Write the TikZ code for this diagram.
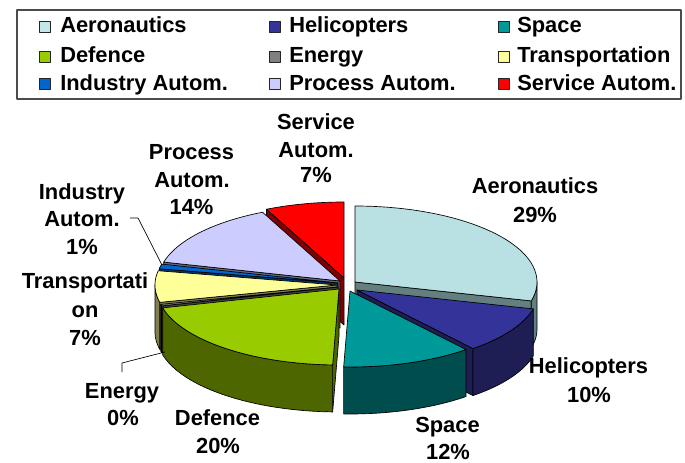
\documentclass[tikz,border=0pt]{standalone}
\usepackage{fontspec}
\setmainfont{Liberation Sans}
\definecolor{aeroT}{HTML}{B9E0E3}\definecolor{aeroS}{HTML}{637F80}\definecolor{aeroL}{HTML}{C4E8EA}
\definecolor{heliT}{HTML}{333399}\definecolor{heliS}{HTML}{1E1E55}
\definecolor{spaceT}{HTML}{009999}\definecolor{spaceS}{HTML}{004D4D}
\definecolor{defT}{HTML}{99CC00}\definecolor{defS}{HTML}{4D6600}
\definecolor{enT}{HTML}{808080}\definecolor{enS}{HTML}{404040}
\definecolor{trT}{HTML}{FFFF99}\definecolor{trS}{HTML}{80804D}
\definecolor{indT}{HTML}{0066CC}\definecolor{indS}{HTML}{003366}
\definecolor{procT}{HTML}{CCCCFF}\definecolor{procS}{HTML}{666680}
\definecolor{servT}{HTML}{FF0000}\definecolor{servS}{HTML}{800000}
\def\RX{182}\def\RY{76}\def\DP{47}
\newcommand\pieRad[4]{\filldraw[edge, fill=#4] (#1,#2) -- ({#1+\RX*sin(#3)},{#2-\RY*cos(#3)}) -- ({#1+\RX*sin(#3)},{#2+\DP-\RY*cos(#3)}) -- (#1,{#2+\DP}) -- cycle;}
\newcommand\pieWall[5]{\filldraw[edge, fill=#5] plot[domain=#3:#4, samples=25] ({#1+\RX*sin(\x)},{#2-\RY*cos(\x)}) -- plot[domain=#4:#3, samples=25] ({#1+\RX*sin(\x)},{#2+\DP-\RY*cos(\x)}) -- cycle;}
\newcommand\pieTop[5]{\filldraw[edge, fill=#5] (#1,#2) -- plot[domain=#3:#4, samples=40] ({#1+\RX*sin(\x)},{#2-\RY*cos(\x)}) -- cycle;}
\begin{document}
\begin{tikzpicture}[x=0.75pt,y=-0.75pt,line join=round,
  edge/.style={draw=black,line width=0.5pt},
  lbl/.style={font=\fontsize{16.4}{20}\selectfont\bfseries,inner sep=0pt,anchor=base},
  legtxt/.style={font=\fontsize{16.4}{20}\selectfont\bfseries,inner sep=0pt,anchor=base west},
  legsq/.style={draw=black!85,line width=0.6pt},
  leader/.style={draw=black,line width=0.5pt}]
\useasboundingbox (0,0) rectangle (685,463);
% legend
\draw[draw=black!70,line width=1pt] (17,10) rectangle (681,99);
\filldraw[legsq,fill=aeroL] (39,21) rectangle (50,32);
\filldraw[legsq,fill=heliT] (269,21) rectangle (280,32);
\filldraw[legsq,fill=spaceT] (498,21) rectangle (509,32);
\filldraw[legsq,fill=defT] (39,51) rectangle (50,62);
\filldraw[legsq,fill=enT] (269,51) rectangle (280,62);
\filldraw[legsq,fill=trT] (498,51) rectangle (509,62);
\filldraw[legsq,fill=indT] (39,78) rectangle (50,89);
\filldraw[legsq,fill=procT] (269,78) rectangle (280,89);
\filldraw[legsq,fill=servT] (498,78) rectangle (509,89);
\node[legtxt] (lg1) at (60,33) {Aeronautics};
\node[legtxt] (lg2) at (289,33) {Helicopters};
\node[legtxt] (lg3) at (517,33) {Space};
\node[legtxt] (lg4) at (60,63) {Defence};
\node[legtxt] (lg5) at (289,63) {Energy};
\node[legtxt] (lg6) at (517,63) {Transportation};
\node[legtxt] (lg7) at (60,91) {Industry Autom.};
\node[legtxt] (lg8) at (289,91) {Process Autom.};
\node[legtxt] (lg9) at (517,91) {Service Autom.};
% pie: back to front
% Service
\pieRad{344}{278}{334.8}{servS}
\pieTop{344}{278}{334.8}{360}{servT}
% Process
\pieRad{340}{281}{284.4}{procS}
\pieTop{340}{281}{284.4}{334.8}{procT}
% Industry
\pieRad{338}{283}{280.8}{indS}
\pieTop{338}{283}{280.8}{284.4}{indT}
% Aeronautics
\pieRad{355}{282}{104.4}{aeroS}
\pieWall{355}{282}{90}{104.4}{aeroS}
\pieTop{355}{282}{0}{104.4}{aeroT}
% Transportation
\pieRad{337}{285}{256.8}{trS}
\pieWall{337}{285}{256.8}{270}{trS}
\pieTop{337}{285}{256.8}{280.8}{trT}
% Energy
\pieRad{338}{287}{255.6}{enS}
\pieWall{338}{287}{255.6}{256.8}{enS}
\pieTop{338}{287}{255.6}{256.8}{enT}
% Defence
\pieRad{339}{289}{182}{defS}
\pieWall{339}{289}{182}{255.6}{defS}
\pieTop{339}{289}{182}{255.6}{defT}
% Helicopters
\pieRad{357}{290}{140.4}{heliS}
\pieWall{357}{290}{104.4}{140.4}{heliS}
\pieTop{357}{290}{104.4}{140.4}{heliT}
% Space
\pieWall{350}{291}{140.4}{182}{spaceS}
\pieTop{350}{291}{140.4}{182}{spaceT}
% labels
\node[lbl] (aero1) at (535,194) {Aeronautics};
\node[lbl] (aero2) at (535,223) {29\%};
\node[lbl] (heli1) at (588.5,373) {Helicopters};
\node[lbl] (heli2) at (589,402) {10\%};
\node[lbl] (space1) at (447.5,432) {Space};
\node[lbl] (space2) at (448,459) {12\%};
\node[lbl] (def1) at (217.5,425) {Defence};
\node[lbl] (def2) at (218,453) {20\%};
\node[lbl] (en1) at (122,398) {Energy};
\node[lbl] (en2) at (123,425) {0\%};
\node[lbl] (tr1) at (85,288) {Transportati};
\node[lbl] (tr2) at (85,317) {on};
\node[lbl] (tr3) at (85,345) {7\%};
\node[lbl] (ind1) at (82,200) {Industry};
\node[lbl] (ind2) at (82,227) {Autom.};
\node[lbl] (ind3) at (82,255) {1\%};
\node[lbl] (proc1) at (191.5,160) {Process};
\node[lbl] (proc2) at (192,188) {Autom.};
\node[lbl] (proc3) at (191.5,215) {14\%};
\node[lbl] (serv1) at (316,130) {Service};
\node[lbl] (serv2) at (316,158) {Autom.};
\node[lbl] (serv3) at (316,183) {7\%};
% leader lines
\coordinate (indA) at (130,218);
\coordinate (indB) at (138,218);
\coordinate (indTip) at (162,265);
\draw[leader] (indA) -- (indB) -- (indTip);
\coordinate (enA) at (122,372);
\coordinate (enB) at (122,363);
\coordinate (enTip) at (165,352);
\draw[leader] (enA) -- (enB) -- (enTip);
\end{tikzpicture}
\end{document}
